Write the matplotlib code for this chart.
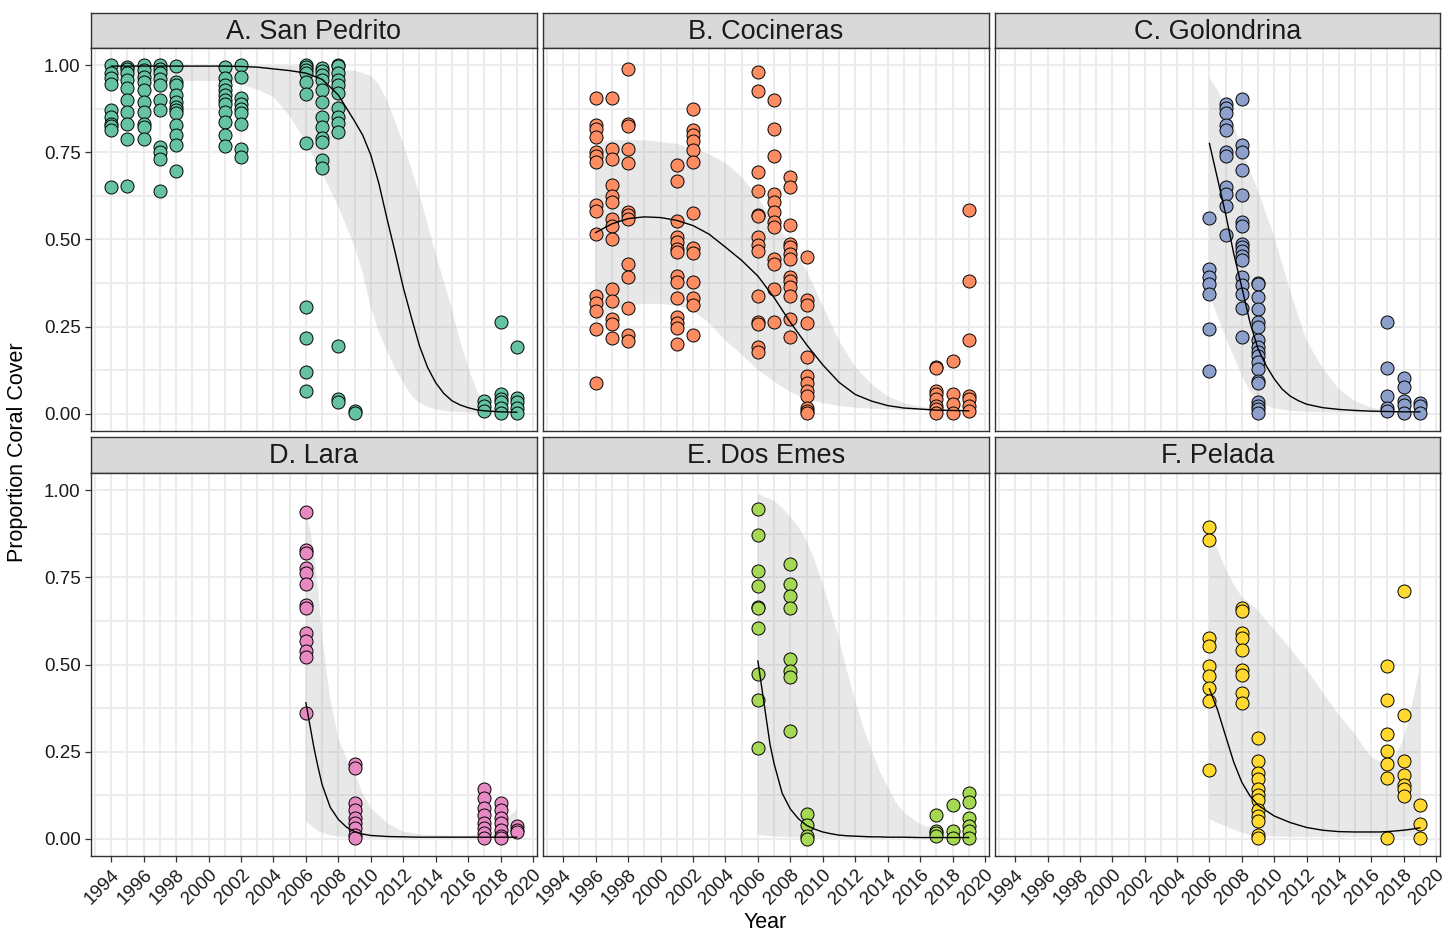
import matplotlib
matplotlib.use('Agg')
import matplotlib.pyplot as plt

plt.rcParams['font.family'] = ['Liberation Sans', 'DejaVu Sans']

# ---- observed proportion coral cover, per site and survey year ----
SP_PTS = {
    1994: [1.0, 0.977, 0.963, 0.948, 0.871, 0.852, 0.833, 0.826, 0.814, 0.650],
    1995: [0.995, 0.99, 0.977, 0.958, 0.934, 0.900, 0.867, 0.833, 0.790, 0.655],
    1996: [1.0, 0.987, 0.967, 0.953, 0.929, 0.895, 0.867, 0.833, 0.823, 0.790],
    1997: [1.0, 0.991, 0.977, 0.962, 0.943, 0.900, 0.871, 0.766, 0.751, 0.732, 0.638],
    1998: [0.999, 0.953, 0.943, 0.914, 0.895, 0.881, 0.871, 0.862, 0.828, 0.799, 0.770, 0.698],
    2001: [0.996, 0.963, 0.943, 0.929, 0.914, 0.900, 0.890, 0.867, 0.838, 0.799, 0.768],
    2002: [1.0, 0.967, 0.905, 0.890, 0.876, 0.862, 0.833, 0.761, 0.737],
    2006: [1.0, 0.996, 0.986, 0.977, 0.953, 0.919, 0.777, 0.306, 0.218, 0.120, 0.066],
    2007: [0.992, 0.983, 0.973, 0.959, 0.930, 0.896, 0.853, 0.824, 0.791, 0.781, 0.728, 0.704],
    2008: [1.0, 0.997, 0.978, 0.959, 0.944, 0.920, 0.877, 0.853, 0.834, 0.810, 0.195, 0.041, 0.032],
    2009: [0.008, 0.002],
    2017: [0.036, 0.021, 0.007],
    2018: [0.262, 0.056, 0.041, 0.032, 0.017, 0.003],
    2019: [0.190, 0.046, 0.032, 0.017, 0.003],
}
CO_PTS = {
    1996: [0.905, 0.828, 0.818, 0.794, 0.751, 0.741, 0.722, 0.598, 0.583, 0.516, 0.338, 0.319, 0.295, 0.242, 0.088],
    1997: [0.907, 0.761, 0.732, 0.657, 0.626, 0.607, 0.559, 0.540, 0.501, 0.357, 0.324, 0.271, 0.256, 0.218],
    1998: [0.991, 0.833, 0.826, 0.761, 0.720, 0.578, 0.569, 0.559, 0.429, 0.391, 0.302, 0.225, 0.208],
    2001: [0.713, 0.667, 0.552, 0.506, 0.492, 0.473, 0.463, 0.396, 0.377, 0.333, 0.276, 0.261, 0.247, 0.199],
    2002: [0.876, 0.814, 0.799, 0.782, 0.756, 0.722, 0.575, 0.477, 0.461, 0.377, 0.333, 0.311, 0.225],
    2006: [0.980, 0.927, 0.695, 0.640, 0.570, 0.567, 0.507, 0.483, 0.467, 0.339, 0.262, 0.257, 0.190, 0.176],
    2007: [0.900, 0.816, 0.740, 0.631, 0.609, 0.578, 0.549, 0.535, 0.444, 0.429, 0.357, 0.263],
    2008: [0.680, 0.651, 0.541, 0.488, 0.478, 0.459, 0.445, 0.392, 0.382, 0.363, 0.339, 0.272, 0.219],
    2009: [0.451, 0.325, 0.313, 0.261, 0.163, 0.109, 0.089, 0.065, 0.051, 0.017, 0.008, 0.002],
    2017: [0.134, 0.131, 0.065, 0.056, 0.041, 0.022, 0.012, 0.003],
    2018: [0.152, 0.056, 0.027, 0.003],
    2019: [0.586, 0.382, 0.211, 0.051, 0.041, 0.022, 0.008],
}
GO_PTS = {
    2006: [0.563, 0.416, 0.392, 0.373, 0.344, 0.243, 0.123],
    2007: [0.890, 0.877, 0.863, 0.829, 0.815, 0.752, 0.740, 0.651, 0.632, 0.596, 0.512],
    2008: [0.903, 0.771, 0.752, 0.699, 0.627, 0.550, 0.538, 0.488, 0.478, 0.467, 0.454, 0.440,
           0.392, 0.368, 0.344, 0.303, 0.219],
    2009: [0.375, 0.371, 0.334, 0.301, 0.262, 0.248, 0.211, 0.190, 0.176, 0.166, 0.147, 0.128,
           0.094, 0.089, 0.032, 0.022, 0.012, 0.002],
    2017: [0.263, 0.130, 0.050, 0.016, 0.007],
    2018: [0.103, 0.077, 0.036, 0.026, 0.002],
    2019: [0.031, 0.021, 0.002],
}
LA_PTS = {
    2006: [0.938, 0.828, 0.821, 0.778, 0.764, 0.732, 0.672, 0.663, 0.591, 0.567, 0.538, 0.521, 0.361],
    2009: [0.213, 0.203, 0.102, 0.083, 0.059, 0.045, 0.031, 0.011, 0.002],
    2017: [0.141, 0.117, 0.088, 0.069, 0.045, 0.031, 0.016, 0.002],
    2018: [0.102, 0.083, 0.059, 0.045, 0.026, 0.007, 0.002],
    2019: [0.035, 0.026, 0.019],
}
DE_PTS = {
    2006: [0.948, 0.872, 0.768, 0.725, 0.665, 0.661, 0.605, 0.473, 0.397, 0.259],
    2008: [0.789, 0.732, 0.696, 0.663, 0.515, 0.481, 0.465, 0.310],
    2009: [0.072, 0.040, 0.007, 0.0],
    2017: [0.069, 0.023, 0.016, 0.007],
    2018: [0.096, 0.023, 0.002],
    2019: [0.131, 0.105, 0.059, 0.035, 0.021, 0.002],
}
PE_PTS = {
    2006: [0.895, 0.859, 0.577, 0.553, 0.495, 0.466, 0.433, 0.395, 0.198],
    2008: [0.663, 0.655, 0.591, 0.577, 0.543, 0.483, 0.471, 0.419, 0.390],
    2009: [0.289, 0.224, 0.189, 0.172, 0.141, 0.126, 0.112, 0.083, 0.064, 0.050, 0.011, 0.002],
    2017: [0.495, 0.399, 0.299, 0.251, 0.213, 0.174, 0.002],
    2018: [0.711, 0.356, 0.224, 0.184, 0.155, 0.141, 0.122],
    2019: [0.096, 0.043, 0.002],
}

# ---- fitted trend with confidence band ----
SP_T = [1994, 1995, 1996, 1997, 1998, 1999, 2000, 2001, 2002, 2003, 2004, 2005, 2006, 2007, 2008, 2009,
        2009.5, 2010, 2010.5, 2011, 2011.5, 2012, 2012.5, 2013, 2013.5, 2014, 2014.5, 2015, 2015.5,
        2016, 2016.5, 2017, 2018, 2019]
SP_FIT = [0.998, 0.998, 0.998, 0.998, 0.998, 0.998, 0.998, 0.998, 0.997, 0.995, 0.99, 0.985, 0.978,
          0.96, 0.915, 0.84, 0.80, 0.743, 0.661, 0.56, 0.464, 0.363, 0.277, 0.195, 0.133, 0.089,
          0.058, 0.037, 0.025, 0.017, 0.011, 0.008, 0.005, 0.004]
SP_HI = [0.999, 0.999, 0.999, 0.999, 0.999, 0.999, 0.999, 0.999, 0.999, 0.999, 0.999, 0.999, 0.995,
         0.99, 0.988, 0.985, 0.978, 0.97, 0.945, 0.90, 0.84, 0.775, 0.705, 0.63, 0.545, 0.46, 0.38,
         0.30, 0.21, 0.135, 0.07, 0.03, 0.008, 0.004]
SP_LO = [0.955, 0.955, 0.955, 0.955, 0.955, 0.955, 0.955, 0.955, 0.945, 0.93, 0.91, 0.855, 0.78,
         0.69, 0.595, 0.48, 0.405, 0.305, 0.235, 0.18, 0.13, 0.09, 0.052, 0.03, 0.02, 0.012, 0.008,
         0.005, 0.004, 0.003, 0.002, 0.002, 0.001, 0.001]

CO_T = [1996, 1997, 1998, 1999, 2000, 2001, 2002, 2003, 2004, 2005, 2006, 2007, 2008, 2009, 2010,
        2011, 2012, 2013, 2014, 2015, 2016, 2017, 2018, 2019]
CO_FIT = [0.52, 0.545, 0.56, 0.565, 0.563, 0.555, 0.54, 0.515, 0.478, 0.44, 0.395, 0.333, 0.262,
          0.198, 0.14, 0.09, 0.055, 0.036, 0.023, 0.016, 0.013, 0.01, 0.009, 0.008]
CO_HI = [0.775, 0.785, 0.785, 0.785, 0.78, 0.775, 0.76, 0.745, 0.72, 0.68, 0.62, 0.55, 0.49, 0.41,
         0.31, 0.21, 0.135, 0.085, 0.05, 0.03, 0.02, 0.013, 0.012, 0.012]
CO_LO = [0.26, 0.295, 0.31, 0.315, 0.315, 0.31, 0.295, 0.26, 0.21, 0.17, 0.125, 0.092, 0.062,
         0.042, 0.03, 0.022, 0.017, 0.014, 0.012, 0.01, 0.009, 0.008, 0.008, 0.008]

GO_T = [2006, 2006.5, 2007, 2007.5, 2008, 2008.5, 2009, 2009.5, 2010, 2010.5, 2011, 2011.5,
        2012, 2013, 2014, 2015, 2016, 2017, 2018, 2019]
GO_FIT = [0.776, 0.675, 0.574, 0.46, 0.363, 0.263, 0.187, 0.138, 0.10, 0.07, 0.05, 0.037,
          0.027, 0.017, 0.012, 0.009, 0.007, 0.006, 0.005, 0.005]
GO_HI = [0.965, 0.93, 0.88, 0.83, 0.76, 0.70, 0.64, 0.575, 0.51, 0.43, 0.35, 0.28,
         0.21, 0.13, 0.07, 0.036, 0.017, 0.009, 0.006, 0.005]
GO_LO = [0.34, 0.28, 0.22, 0.165, 0.11, 0.065, 0.038, 0.023, 0.015, 0.011, 0.008, 0.006,
         0.005, 0.004, 0.003, 0.003, 0.003, 0.002, 0.002, 0.002]

LA_T = [2006, 2006.25, 2006.5, 2006.75, 2007, 2007.5, 2008, 2008.5, 2009, 2009.5, 2010, 2011,
        2012, 2013, 2014, 2015, 2016, 2017, 2017.5, 2018, 2018.5, 2019]
LA_FIT = [0.39, 0.325, 0.26, 0.205, 0.155, 0.09, 0.055, 0.033, 0.02, 0.013, 0.009, 0.006,
          0.005, 0.004, 0.004, 0.004, 0.004, 0.004, 0.004, 0.004, 0.004, 0.004]
LA_HI = [0.93, 0.89, 0.82, 0.72, 0.58, 0.40, 0.29, 0.23, 0.19, 0.13, 0.088, 0.045,
         0.02, 0.012, 0.01, 0.009, 0.009, 0.012, 0.02, 0.035, 0.06, 0.085]
LA_LO = [0.05, 0.04, 0.03, 0.022, 0.016, 0.01, 0.006, 0.004, 0.003, 0.002, 0.002, 0.002,
         0.002, 0.002, 0.002, 0.002, 0.002, 0.001, 0.001, 0.001, 0.0, 0.0]

DE_T = [2006, 2006.25, 2006.5, 2006.75, 2007, 2007.5, 2008, 2008.5, 2009, 2009.5, 2010, 2010.5,
        2011, 2011.5, 2012, 2012.5, 2013, 2013.5, 2014, 2014.5, 2015, 2016, 2017, 2018, 2019]
DE_FIT = [0.51, 0.43, 0.35, 0.27, 0.215, 0.13, 0.085, 0.057, 0.038, 0.027, 0.019, 0.014,
          0.01, 0.008, 0.007, 0.006, 0.005, 0.005, 0.004, 0.004, 0.004, 0.003, 0.003, 0.003, 0.003]
DE_HI = [0.99, 0.985, 0.98, 0.975, 0.97, 0.95, 0.925, 0.895, 0.855, 0.80, 0.73, 0.655,
         0.575, 0.48, 0.395, 0.32, 0.255, 0.195, 0.15, 0.105, 0.075, 0.042, 0.025, 0.016, 0.012]
DE_LO = [0.012, 0.01, 0.008, 0.007, 0.006, 0.005, 0.004, 0.004, 0.003, 0.003, 0.003, 0.003,
         0.003, 0.002, 0.002, 0.002, 0.002, 0.002, 0.002, 0.002, 0.002, 0.002, 0.002, 0.002, 0.002]

PE_T = [2006, 2006.5, 2007, 2007.5, 2008, 2008.5, 2009, 2010, 2011, 2012, 2013, 2014, 2015,
        2015.5, 2016, 2016.5, 2017, 2017.5, 2018, 2018.5, 2019]
PE_FIT = [0.43, 0.37, 0.295, 0.22, 0.162, 0.123, 0.096, 0.065, 0.046, 0.032, 0.024, 0.02, 0.019,
          0.019, 0.019, 0.019, 0.02, 0.022, 0.024, 0.027, 0.031]
PE_HI = [0.88, 0.83, 0.775, 0.73, 0.695, 0.675, 0.655, 0.60, 0.545, 0.487, 0.42, 0.355, 0.30,
         0.265, 0.235, 0.222, 0.225, 0.24, 0.285, 0.38, 0.49]
PE_LO = [0.056, 0.045, 0.036, 0.025, 0.017, 0.011, 0.008, 0.006, 0.005, 0.005, 0.005, 0.005,
         0.005, 0.005, 0.005, 0.005, 0.005, 0.005, 0.005, 0.005, 0.005]

SITES = ['A. San Pedrito', 'B. Cocineras', 'C. Golondrina', 'D. Lara', 'E. Dos Emes', 'F. Pelada']
COLORS = ['#66C2A5', '#FC8D62', '#8DA0CB', '#E78AC3', '#A6D854', '#FFD92F']
POINTS = [SP_PTS, CO_PTS, GO_PTS, LA_PTS, DE_PTS, PE_PTS]
FITS = [(SP_T, SP_FIT, SP_LO, SP_HI), (CO_T, CO_FIT, CO_LO, CO_HI), (GO_T, GO_FIT, GO_LO, GO_HI),
        (LA_T, LA_FIT, LA_LO, LA_HI), (DE_T, DE_FIT, DE_LO, DE_HI), (PE_T, PE_FIT, PE_LO, PE_HI)]

W, H = 1447, 934
fig = plt.figure(figsize=(W / 100, H / 100), dpi=100)


def px_axes(l, t, r, b):
    return fig.add_axes([l / W, 1 - b / H, (r - l) / W, (b - t) / H])


cols = [(91, 537), (543, 989), (995, 1440)]
rows = [((13, 48), (48, 431)), ((437, 473), (473, 856))]

for i, site in enumerate(SITES):
    r, c = divmod(i, 3)
    (sl, sr) = cols[c]
    (st, sb), (pt, pb) = rows[r]

    # strip header
    sax = px_axes(sl, st, sr, sb)
    sax.set_facecolor('#D9D9D9')
    sax.set_xticks([]); sax.set_yticks([])
    for sp in sax.spines.values():
        sp.set_color('#333333'); sp.set_linewidth(1.0)
    sax.text(0.5, 0.46, site, ha='center', va='center', fontsize=19.5,
             color='#1A1A1A', transform=sax.transAxes)

    ax = px_axes(sl, pt, sr, pb)
    ax.set_xlim(1992.75, 2020.25)
    ax.set_ylim(-0.05, 1.05)
    ax.set_xticks(range(1994, 2021, 2))
    ax.set_xticks(range(1993, 2021, 2), minor=True)
    ax.set_yticks([0, 0.25, 0.5, 0.75, 1.0])
    ax.set_yticks([0.125, 0.375, 0.625, 0.875], minor=True)
    ax.set_yticklabels(['0.00', '0.25', '0.50', '0.75', '1.00'])
    ax.grid(which='both', color='#EBEBEB', lw=1.3)
    ax.set_axisbelow(True)
    for sp in ax.spines.values():
        sp.set_color('#333333'); sp.set_linewidth(1.0)
    ax.tick_params(which='minor', length=0)
    ax.tick_params(which='major', length=4, width=0.9, color='#333333',
                   labelsize=13.5, labelcolor='#1A1A1A')
    ax.tick_params(axis='x', which='major', bottom=(r == 1), labelbottom=(r == 1))
    ax.tick_params(axis='y', which='major', left=(c == 0), labelleft=(c == 0))
    if r == 1:
        for lab in ax.get_xticklabels():
            lab.set_rotation(45)
            lab.set_ha('right')
            lab.set_va('top')
            lab.set_rotation_mode('anchor')

    t, fit, lo, hi = FITS[i]
    ax.fill_between(t, lo, hi, facecolor='#999999', alpha=0.22, lw=0, zorder=2)

    xs, ys = [], []
    for yr, vals in POINTS[i].items():
        xs += [yr] * len(vals)
        ys += vals
    ax.scatter(xs, ys, s=88, c=COLORS[i], edgecolors='black', linewidths=0.7, zorder=3)
    ax.plot(t, fit, color='black', lw=1.0, zorder=4)

fig.text(18 / W, 1 - 452 / H, 'Proportion Coral Cover', rotation=90, ha='center', va='center',
         fontsize=15.5, color='black')
fig.text(765.5 / W, 1 - 922 / H, 'Year', ha='center', va='center', fontsize=15.5, color='black')

plt.savefig('out.png', dpi=100)
plt.close()
